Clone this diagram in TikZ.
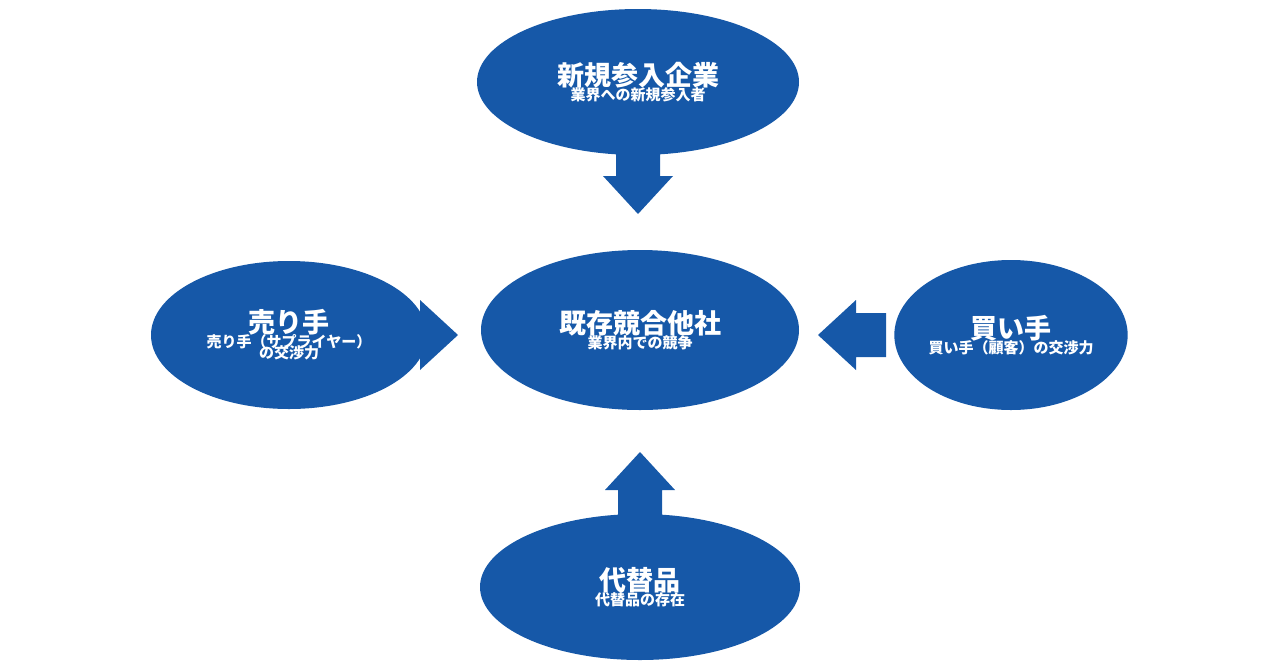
\documentclass[tikz,border=0pt]{standalone}
\usepackage{fontspec}
\setmainfont{Noto Sans CJK JP}
\usetikzlibrary{shapes.geometric, positioning}
\definecolor{brand}{RGB}{22,88,168}
\newcommand{\fttl}{\fontsize{27}{30}\selectfont\bfseries}
\newcommand{\fsub}{\fontsize{15}{19}\selectfont\bfseries}
\tikzset{
  force/.style={ellipse, fill=brand, text=white, align=center, inner sep=0pt},
  blk/.pic={\fill[brand] (0,-22) -- (30,-22) -- (30,-35) -- (68,0) -- (30,35) -- (30,22) -- (0,22) -- cycle;}
}
\begin{document}
\begin{tikzpicture}[x=1pt,y=-1pt]
\useasboundingbox (0,0) rectangle (1280,670);
% arrows first, ellipses on top
\pic[rotate=-90] at (638,146) {blk};
\pic at (390,335) {blk};
\pic[rotate=180] at (886,335) {blk};
\pic[rotate=90] at (640,520) {blk};
% the five forces
\node[force, minimum width=322, minimum height=146] (entry) at (638,82)
  {\fttl 新規参入企業\\[-2pt]\fsub 業界への新規参入者};
\node[force, minimum width=318, minimum height=160] (rival) at (640,330)
  {\fttl 既存競合他社\\[-2pt]\fsub 業界内での競争};
\node[force, minimum width=276, minimum height=148] (seller) at (289,335)
  {\fttl 売り手\\[-2pt]\fsub 売り手（サプライヤー）\\[-4pt]\fsub の交渉力};
\node[force, minimum width=222, minimum height=150] (buyer) at (1011,335)
  {\fttl 買い手\\[-2pt]\fsub 買い手（顧客）の交渉力};
\node[force, minimum width=320, minimum height=146] (subst) at (640,587)
  {\fttl 代替品\\[-2pt]\fsub 代替品の存在};
\end{tikzpicture}
\end{document}
